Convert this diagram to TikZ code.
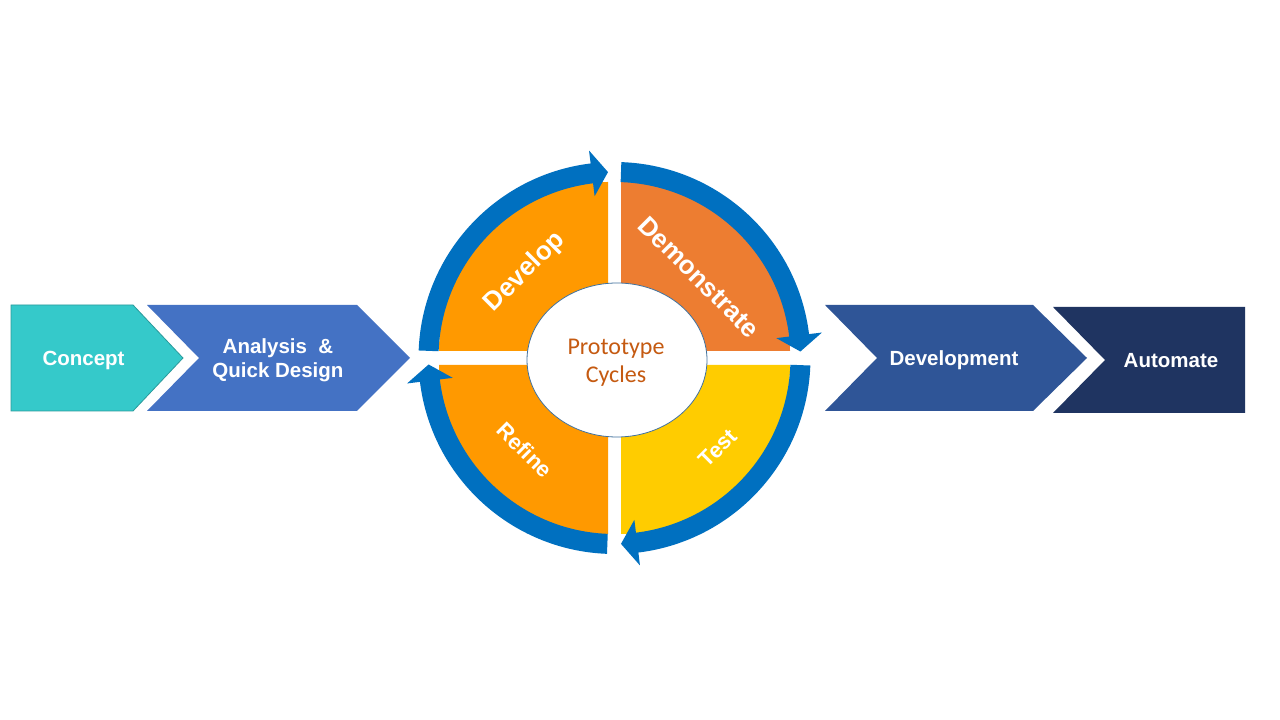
\documentclass[tikz,border=0pt]{standalone}
\usepackage{fontspec}
\usetikzlibrary{shapes.geometric}
\setmainfont{Liberation Sans}
\newfontfamily\carl{Carlito}
\definecolor{conceptc}{HTML}{35C9CA}
\definecolor{conceptb}{HTML}{2A9A9B}
\definecolor{analysisc}{HTML}{4472C4}
\definecolor{devtc}{HTML}{2F5597}
\definecolor{autoc}{HTML}{1F3461}
\definecolor{orangec}{HTML}{FF9900}
\definecolor{democ}{HTML}{ED7D31}
\definecolor{testc}{HTML}{FFCC00}
\definecolor{cycblue}{HTML}{0070C0}
\definecolor{protoc}{HTML}{C55A11}
\definecolor{ellb}{HTML}{41719C}
\newcommand\cycarrow[3]{%
  \fill[cycblue,shift={(614.5,362)}] (#1:176) arc[start angle=#1,end angle=#2,radius=176]
    -- (#2:163) -- (#3:186) -- (#2:209) -- (#2:196)
    arc[start angle=#2,end angle=#1,radius=196] -- cycle;}
\begin{document}
\begin{tikzpicture}[x=1pt,y=1pt,
  lab/.style={text=white,font=\bfseries\fontsize{20.5}{24}\selectfont,align=center},
  biglab/.style={text=white,font=\bfseries\fontsize{26}{30}\selectfont},
  smalllab/.style={text=white,font=\bfseries\fontsize{22}{26}\selectfont}]
\fill[white] (0,0) rectangle (1280,720);
\useasboundingbox (0,0) rectangle (1280,720);
% process chevrons
\filldraw[fill=conceptc,draw=conceptb,line width=0.8] (11,415) -- (133,415) -- (183,362) -- (133,309) -- (11,309) -- cycle;
\fill[analysisc] (147,415) -- (357,415) -- (410,362) -- (357,309) -- (147,309) -- (199,362) -- cycle;
\fill[devtc] (825,415) -- (1033,415) -- (1087,362) -- (1033,309) -- (825,309) -- (877,362) -- cycle;
\fill[autoc] (1053,413) -- (1245,413) -- (1245,307) -- (1053,307) -- (1105,360) -- cycle;
\node[lab] (concept) at (83.5,359.5) {Concept};
\node[lab] (analysis) at (278,359.5) {Analysis \ \&\\Quick Design};
\node[lab] (development) at (954,359.5) {Development};
\node[lab] (automate) at (1171,359.5) {Automate};
% quadrants
\fill[orangec] (608,369) -- ++(-169,0) arc[start angle=180,end angle=90,radius=169] -- cycle;
\fill[democ] (621,369) -- ++(0,169) arc[start angle=90,end angle=0,radius=169] -- cycle;
\fill[testc] (621,355) -- ++(169,0) arc[start angle=0,end angle=-90,radius=169] -- cycle;
\fill[orangec] (608,355) -- ++(0,-169) arc[start angle=270,end angle=180,radius=169] -- cycle;
% cycle arrows
\cycarrow{177.8}{97}{92}
\cycarrow{88}{7}{2}
\cycarrow{-2.2}{-83}{-88}
\cycarrow{267.8}{187}{182}
% centre
\node[draw=ellb,fill=white,line width=0.8,ellipse,minimum width=180,minimum height=154,inner sep=0] (centre) at (617,360) {};
\node[text=protoc,font=\carl\fontsize{24}{28}\selectfont,align=center] (proto) at (616,357) {Prototype\\Cycles};
\node[biglab,rotate=45] (develop) at (525,448) {Develop};
\node[biglab,rotate=-45] (demonstrate) at (699,443) {Demonstrate};
\node[smalllab,rotate=-45] (refine) at (525,270) {Refine};
\node[smalllab,rotate=45] (test) at (718,272) {Test};
\end{tikzpicture}
\end{document}
